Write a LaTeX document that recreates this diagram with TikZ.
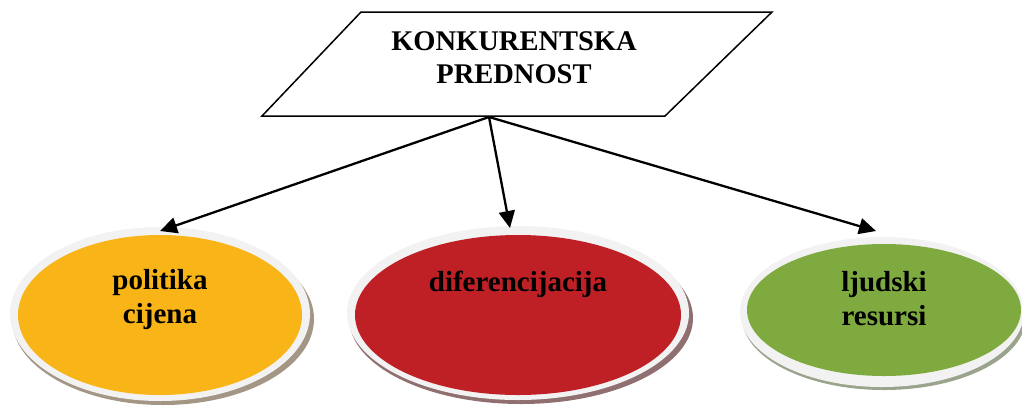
\documentclass[tikz,border=0pt]{standalone}
\usepackage{fontspec}
\setmainfont{Liberation Serif}
\usetikzlibrary{shapes.geometric,arrows.meta}
\definecolor{cOrange}{HTML}{F9B418}
\definecolor{cRed}{HTML}{BF2026}
\definecolor{cGreen}{HTML}{7FAA3F}
\definecolor{cRim}{HTML}{F2F2F2}
\definecolor{sOrange}{HTML}{A39684}
\definecolor{sRed}{HTML}{8F6F6F}
\definecolor{sGreen}{HTML}{9AA38C}
\tikzset{
  conn/.style={draw=black, line width=2.3pt, -{Triangle[length=17pt,width=16pt]}},
  lbl/.style={font=\fontsize{29}{34}\selectfont\bfseries, align=center},
  ttl/.style={font=\fontsize{28.5}{33}\selectfont\bfseries, align=center},
}
\begin{document}
\begin{tikzpicture}[x=1pt,y=-1pt]
\useasboundingbox (0,0) rectangle (1022,408);
% parallelogram
\coordinate (p1) at (361,12);
\coordinate (p2) at (772,12);
\coordinate (p3) at (665,116);
\coordinate (p4) at (262,116);
\draw[line width=1.5pt, line join=miter] (p1) -- (p2) -- (p3) -- (p4) -- cycle;
\node[ttl] (title) at (514,58) {KONKURENTSKA\\PREDNOST};
% left
\fill[sOrange] (163,319) ellipse (151 and 86);
\fill[cRim] (160,314) ellipse (150 and 87);
\fill[cOrange] (160,315) ellipse (142 and 80);
\node[lbl] (e1) at (160,300) {politika\\cijena};
% middle
\fill[sRed] (521,318) ellipse (172 and 86);
\fill[cRim] (518,313) ellipse (171 and 87);
\fill[cRed] (518,315) ellipse (163 and 80);
\node[lbl] (e2) at (518,284) {diferencijacija};
% right
\fill[sGreen] (884,317) ellipse (142 and 73);
\fill[cRim] (882,312) ellipse (142 and 75);
\fill[cGreen] (884,310) ellipse (137 and 66);
\node[lbl] (e3) at (884,299) {ljudski\\resursi};
% connectors
\coordinate (src) at (489,117);
\coordinate (t1) at (160,231);
\coordinate (t2) at (510,228);
\coordinate (t3) at (876,231);
\draw[conn] (src) -- (t1);
\draw[conn] (src) -- (t2);
\draw[conn] (src) -- (t3);
\end{tikzpicture}
\end{document}
